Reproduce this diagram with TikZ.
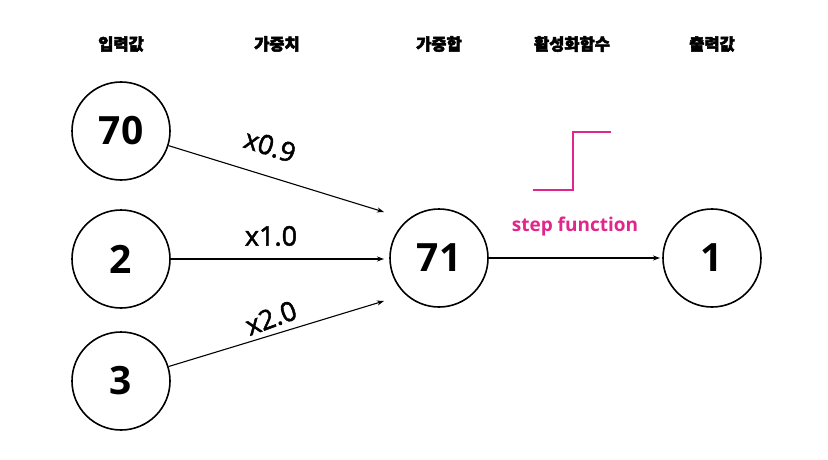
\documentclass[tikz,border=0pt]{standalone}
\usepackage{fontspec}
\setmainfont{Open Sans}
\newfontfamily\kr{Noto Sans CJK KR}[FakeBold=3]
\newfontfamily\wfont{Open Sans}[FakeBold=1.8]
\usetikzlibrary{arrows.meta}
\definecolor{mag}{HTML}{E0268A}
\begin{document}
\begin{tikzpicture}[x=1pt,y=-1pt,
  hdr/.style={font=\kr\bfseries\fontsize{16.5}{18}\selectfont},
  val/.style={circle,draw,line width=1.6pt,minimum size=98pt,inner sep=0pt,font=\bfseries\fontsize{39}{42}\selectfont},
  conn/.style={line width=1.1pt,-{Stealth[length=7pt,width=5pt]}},
  wlab/.style={font=\wfont\fontsize{27}{30}\selectfont,inner sep=0pt}]
\path[use as bounding box] (0,0) rectangle (828,460);
\node[hdr] (h1) at (121,44) {입력값};
\node[hdr] (h2) at (277,44) {가중치};
\node[hdr] (h3) at (439,44) {가중합};
\node[hdr] (h4) at (572,44) {활성화함수};
\node[hdr] (h5) at (712,44) {출력값};
\node[val] (a) at (121,131) {70};
\node[val] (b) at (121,259) {2};
\node[val] (c) at (121,381) {3};
\node[val] (s) at (439,258) {71};
\node[val] (o) at (712,258) {1};
\coordinate (ta) at (384,212);
\coordinate (tb) at (384,259);
\coordinate (tc) at (384,301);
\coordinate (to) at (660,258);
\draw[conn] (a) -- (ta);
\draw[conn] (b) -- (tb);
\draw[conn] (c) -- (tc);
\draw[conn] (s) -- (to);
\node[wlab,rotate=-18] (w1) at (270,146) {x0.9};
\node[wlab] (w2) at (271,236) {x1.0};
\node[wlab,rotate=20] (w3) at (271,318) {x2.0};
\coordinate (p1) at (533,190);
\coordinate (p2) at (573,190);
\coordinate (p3) at (573,132);
\coordinate (p4) at (611,132);
\draw[mag,line width=1.5pt] (p1) -- (p2) -- (p3) -- (p4);
\node[mag,font=\bfseries\fontsize{19}{22}\selectfont] (sf) at (575,227) {step function};
\end{tikzpicture}
\end{document}
